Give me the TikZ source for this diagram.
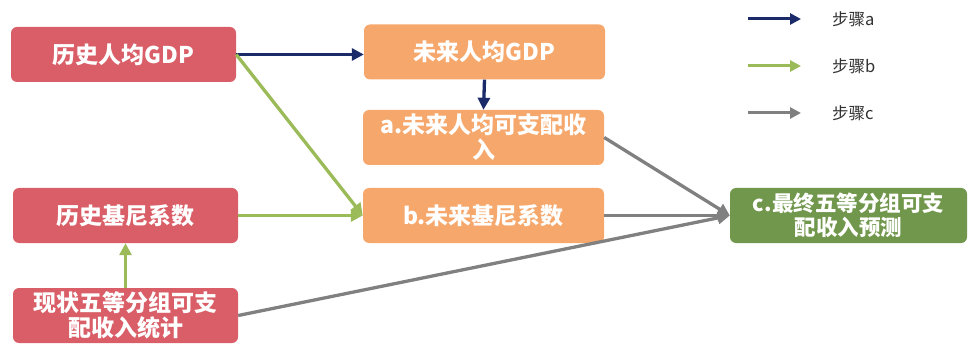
\documentclass[tikz,border=0pt]{standalone}
\usepackage{fontspec}
\setmainfont{Noto Sans CJK SC}
\usetikzlibrary{arrows.meta}
\definecolor{boxred}{RGB}{217,94,103}
\definecolor{boxorange}{RGB}{246,168,108}
\definecolor{boxgreen}{RGB}{112,151,76}
\definecolor{arrblue}{RGB}{27,42,104}
\definecolor{arrgreen}{RGB}{155,187,89}
\definecolor{arrgray}{RGB}{128,128,128}
\definecolor{legtext}{RGB}{50,50,50}
\tikzset{
  box/.style={rounded corners=6pt, minimum height=55pt, inner sep=0pt, text=white,
    font=\fontsize{23}{25}\selectfont\bfseries, align=center},
  redbox/.style={box, fill=boxred, minimum width=225pt},
  orangebox/.style={box, fill=boxorange, minimum width=241pt},
  greenbox/.style={box, fill=boxgreen, minimum width=237pt},
  arr/.style={line width=3.3pt, -{Triangle[length=12pt,width=12pt]}},
  legarr/.style={line width=3pt, -{Triangle[length=11pt,width=11pt]}},
  legtxt/.style={anchor=west, text=legtext, font=\fontsize{16.5}{18}\selectfont, inner sep=0pt}
}
\begin{document}
\begin{tikzpicture}[x=1pt,y=-1pt]
\useasboundingbox (0,0) rectangle (968,347);
% nodes
\node[redbox] (h1) at (123.5,54.5) {历史人均GDP};
\node[orangebox] (f1) at (484.5,52) {未来人均GDP};
\node[orangebox] (a) at (483.5,137.5) {a.未来人均可支配收\\入};
\node[redbox] (h2) at (125.5,215.5) {历史基尼系数};
\node[orangebox] (b) at (483.5,215.5) {b.未来基尼系数};
\node[greenbox, font=\fontsize{21.5}{24}\selectfont\bfseries] (c) at (848.5,215.5) {c.最终五等分组可支\\配收入预测};
\node[redbox] (s) at (125.5,315.5) {现状五等分组可支\\配收入统计};
% connectors
\draw[arr, arrblue] (h1.east) -- (f1.west |- h1.east);
\draw[arr, arrblue] (f1.south) -- (a.north);
\draw[arr, arrgreen] (h1.east) -- (b.west);
\draw[arr, arrgreen] (h2.east) -- (b.west);
\draw[arr, arrgreen] (s.north) -- (h2.south);
\draw[arr, arrgray] (a.east) -- (c.west);
\draw[arr, arrgray] (b.east) -- (c.west);
\draw[arr, arrgray] (s.east) -- (c.west);
% legend
\coordinate (la1) at (748,19); \coordinate (lb1) at (801,19);
\coordinate (la2) at (748,66); \coordinate (lb2) at (801,66);
\coordinate (la3) at (748,113); \coordinate (lb3) at (801,113);
\draw[legarr, arrblue] (la1) -- (lb1);
\draw[legarr, arrgreen] (la2) -- (lb2);
\draw[legarr, arrgray] (la3) -- (lb3);
\node[legtxt] (t1) at (832,19) {步骤a};
\node[legtxt] (t2) at (832,66) {步骤b};
\node[legtxt] (t3) at (832,113) {步骤c};
\end{tikzpicture}
\end{document}
